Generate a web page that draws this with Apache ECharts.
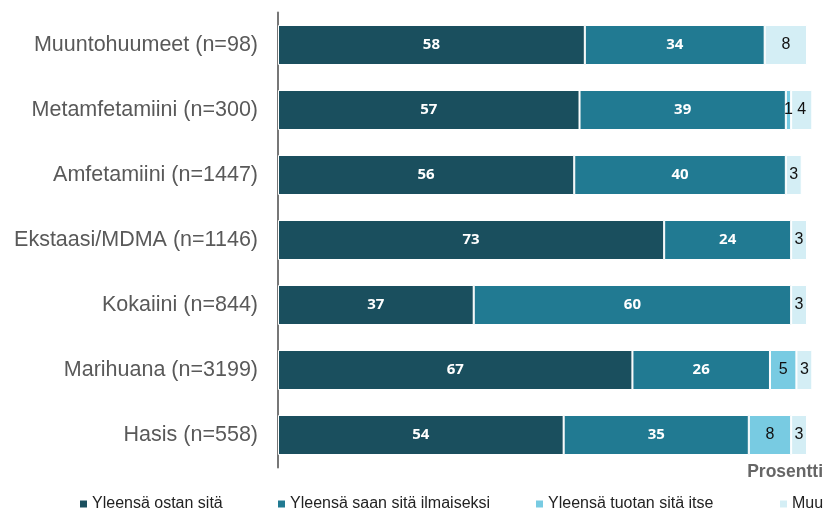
<!DOCTYPE html>
<html>
<head>
<meta charset="utf-8">
<script src="https://cdn.jsdelivr.net/npm/echarts@6/dist/echarts.min.js"></script>
<style>
  html, body { margin: 0; padding: 0; background: #fff; }
  #chart { width: 825px; height: 513px; }
</style>
</head>
<body>
<div id="chart"></div>
<script>
// Categories (top to bottom)
const categories = [
  'Muuntohuumeet (n=98)',
  'Metamfetamiini (n=300)',
  'Amfetamiini (n=1447)',
  'Ekstaasi/MDMA (n=1146)',
  'Kokaiini (n=844)',
  'Marihuana (n=3199)',
  'Hasis (n=558)'
];

const seriesNames = [
  'Yleensä ostan sitä',
  'Yleensä saan sitä ilmaiseksi',
  'Yleensä tuotan sitä itse',
  'Muu'
];

// Percentages per category, one array per series
const ostan      = [58, 57, 56, 73, 37, 67, 54];
const ilmaiseksi = [34, 39, 40, 24, 60, 26, 35];
const tuotan     = [null, 1, null, null, null, 5, 8];
const muu        = [8, 4, 3, 3, 3, 3, 3];

const colors = ['#1a4f5e', '#217a92', '#78cbe2', '#d4eef5'];
const labelColors = ['#ffffff', '#ffffff', '#111111', '#111111'];
const values = [ostan, ilmaiseksi, tuotan, muu];

const chart = echarts.init(document.getElementById('chart'));

const series = values.map((data, i) => ({
  name: seriesNames[i],
  type: 'bar',
  stack: 'total',
  barWidth: 40,
  clip: false,
  data: data,
  itemStyle: { color: colors[i], borderColor: '#ffffff', borderWidth: 1 },
  label: {
    show: true,
    position: 'inside',
    color: labelColors[i],
    fontFamily: i < 2 ? 'Open Sans' : 'Liberation Sans',
    fontWeight: i < 2 ? 'bold' : 'normal',
    fontSize: i < 2 ? 15 : 16
  }
}));

const legendLefts = [78, 276, 534, 778];
const legends = seriesNames.map((name, i) => ({
  data: [name],
  left: legendLefts[i],
  top: 496,
  orient: 'horizontal',
  icon: 'rect',
  itemWidth: 9,
  itemHeight: 9,
  itemGap: 0,
  padding: 0,
  selectedMode: false,
  textStyle: { fontFamily: 'Liberation Sans', fontSize: 16, color: '#222222', padding: [0, 0, 0, -1] }
}));

chart.setOption({
  animation: false,
  grid: { left: 278, right: 18, top: 12.5, bottom: 45.5, containLabel: false },
  xAxis: {
    type: 'value',
    min: 0,
    max: 100,
    show: false
  },
  yAxis: {
    type: 'category',
    data: categories,
    inverse: true,
    axisLine: { show: true, lineStyle: { color: '#777777', width: 2 } },
    axisTick: { show: false },
    axisLabel: {
      fontFamily: 'Liberation Sans',
      fontSize: 21.5,
      color: '#595959',
      margin: 20
    }
  },
  legend: legends,
  graphic: [{
    type: 'text',
    right: 2,
    top: 463,
    style: {
      text: 'Prosentti',
      fontFamily: 'Liberation Sans',
      fontWeight: 'bold',
      fontSize: 17.5,
      fill: '#666666'
    }
  }],
  series: series
});
</script>
</body>
</html>
